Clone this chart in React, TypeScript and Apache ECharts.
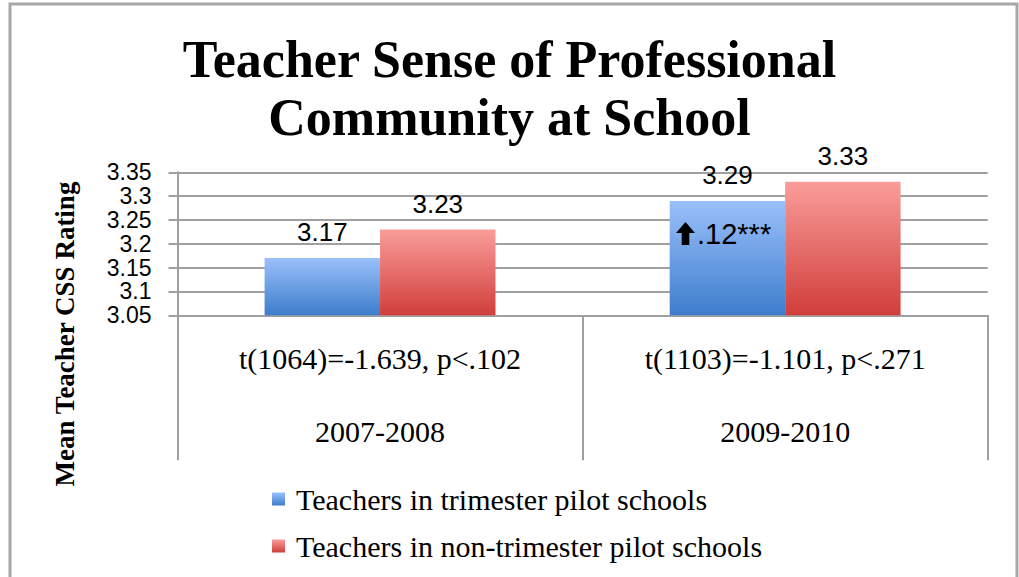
import React, { useEffect, useRef } from "react";
import * as echarts from "echarts";

const categories = ["2007-2008", "2009-2010"];
const tTests = ["t(1064)=-1.639, p<.102", "t(1103)=-1.101, p<.271"];
const seriesNames = [
  "Teachers in trimester pilot schools",
  "Teachers in non-trimester pilot schools",
];
const trimester = [3.17, 3.29];
const nonTrimester = [3.23, 3.33];
const yMin = 3.05;
const yMax = 3.35;
const yStep = 0.05;
const annotation = ".12***";

const SERIF = "'Liberation Serif', 'Times New Roman', serif";
const SANS = "'Liberation Sans', Arial, sans-serif";
const GRID = "#a0a0a0";

const blueGrad = new echarts.graphic.LinearGradient(0, 0, 0, 1, [
  { offset: 0, color: "#9ac0fa" },
  { offset: 1, color: "#3d7dcc" },
]);
const redGrad = new echarts.graphic.LinearGradient(0, 0, 0, 1, [
  { offset: 0, color: "#f99d9a" },
  { offset: 1, color: "#d03e3a" },
]);

export default function App() {
  const ref = useRef<HTMLDivElement>(null);
  useEffect(() => {
    document.body.style.margin = "0";
    const chart = echarts.init(ref.current!, null, { renderer: "svg" });
    const barLabel = {
      show: true,
      position: "top",
      distance: 13,
      color: "#000",
      fontFamily: SANS,
      fontSize: 26,
      formatter: (p: any) => p.value.toFixed(2),
    };
    chart.setOption({
      animation: false,
      title: {
        text: "Teacher Sense of Professional\nCommunity at School",
        left: "center",
        top: 25,
        textStyle: {
          fontFamily: SERIF,
          fontWeight: "bold",
          fontSize: 52,
          lineHeight: 58,
          color: "#000",
        },
      },
      grid: { left: 177.5, right: 31.3, top: 172.3, bottom: 261.7 },
      legend: {
        orient: "vertical",
        left: 267,
        top: 479,
        itemWidth: 13,
        itemHeight: 13,
        itemGap: 17,
        icon: "rect",
        textStyle: {
          fontFamily: SERIF,
          fontSize: 30,
          lineHeight: 30,
          color: "#000",
          padding: [0, 0, 0, 6],
        },
        data: seriesNames,
      },
      xAxis: {
        type: "category",
        data: categories,
        axisLine: { show: true, lineStyle: { color: GRID, width: 2 } },
        axisTick: { show: true, length: 145, lineStyle: { color: GRID, width: 2 } },
        axisLabel: {
          margin: 28,
          formatter: (v: string, i: number) => `{t|${tTests[i]}}\n{c|${v}}`,
          rich: {
            t: { fontFamily: SERIF, fontSize: 30, lineHeight: 30, color: "#000" },
            c: { fontFamily: SERIF, fontSize: 30, lineHeight: 116, color: "#000" },
          },
        },
      },
      yAxis: {
        type: "value",
        min: yMin,
        max: yMax,
        interval: yStep,
        axisLine: { show: true, lineStyle: { color: GRID, width: 2 } },
        axisTick: { show: true, length: 9, lineStyle: { color: GRID, width: 2 } },
        splitLine: { show: true, lineStyle: { color: GRID, width: 2 } },
        axisLabel: {
          margin: 26,
          color: "#000",
          fontFamily: SANS,
          fontSize: 23,
          lineHeight: 20,
          formatter: (v: number) => String(parseFloat(v.toFixed(2))),
        },
      },
      series: [
        {
          name: seriesNames[0],
          type: "bar",
          data: trimester,
          barGap: "0%",
          barCategoryGap: "43%",
          itemStyle: { color: blueGrad },
          label: barLabel,
        },
        {
          name: seriesNames[1],
          type: "bar",
          data: nonTrimester,
          itemStyle: { color: redGrad },
          label: barLabel,
        },
      ],
      graphic: [
        {
          type: "polyline",
          z: 100,
          shape: { points: [[10, 577], [10, 4], [1017, 4], [1017, 577]] },
          style: { stroke: "#a8a8a8", lineWidth: 3, fill: "none" },
        },
        {
          type: "text",
          z: 100,
          x: 65,
          y: 334,
          rotation: Math.PI / 2,
          style: {
            text: "Mean Teacher CSS Rating",
            fontFamily: SERIF,
            fontWeight: "bold",
            fontSize: 27,
            fill: "#000",
            align: "center",
            verticalAlign: "middle",
          },
        },
        {
          type: "polygon",
          z: 100,
          shape: {
            points: [
              [685.5, 222], [695, 233], [689.3, 233], [689.3, 245],
              [681.7, 245], [681.7, 233], [676, 233],
            ],
          },
          style: { fill: "#000" },
        },
        {
          type: "text",
          z: 100,
          x: 697,
          y: 234,
          style: {
            text: annotation,
            fontFamily: SANS,
            fontSize: 29,
            fill: "#000",
            align: "left",
            verticalAlign: "middle",
          },
        },
      ],
    });
    return () => chart.dispose();
  }, []);
  return <div ref={ref} style={{ width: 1019, height: 577 }} />;
}
